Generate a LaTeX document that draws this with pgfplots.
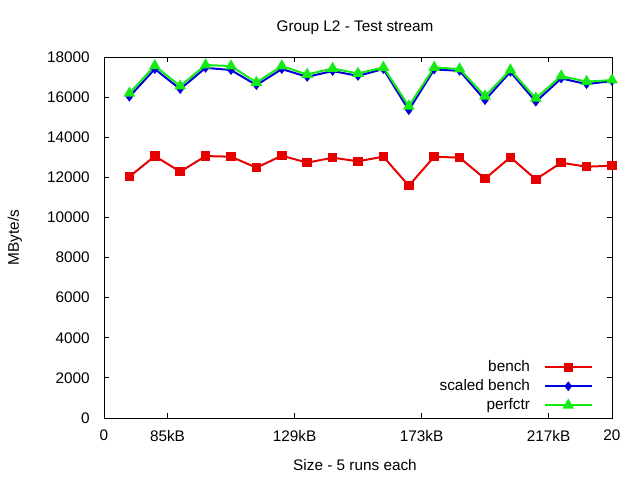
\documentclass[border=0pt]{standalone}
\usepackage{fontspec}
\setmainfont{Liberation Sans}
\usepackage{pgfplots}
\pgfplotsset{compat=1.18}

\definecolor{benchred}{RGB}{230,0,0}
\definecolor{scaledblue}{RGB}{0,0,220}
\definecolor{perfgreen}{RGB}{20,235,20}

% x = run index, y = MByte/s
\pgfplotstableread{
x bench scaled perfctr
1  12030 16020 16190
2  13060 17400 17560
3  12280 16400 16550
4  13060 17460 17600
5  13030 17350 17550
6  12480 16600 16730
7  13080 17400 17550
8  12730 17010 17130
9  12980 17300 17430
10 12800 17060 17180
11 13030 17400 17480
12 11580 15350 15550
13 13030 17380 17480
14 12980 17310 17400
15 11930 15850 16050
16 13000 17260 17350
17 11900 15770 15940
18 12730 16930 17050
19 12530 16650 16770
20 12580 16800 16850
}\datatable

\begin{document}
\begin{tikzpicture}[font=\fontsize{11.5pt}{13pt}\selectfont]
\begin{axis}[
  at={(0pt,0pt)}, anchor=south west,
  scale only axis,
  width=381pt, height=270.75pt,
  xmin=0, xmax=20, ymin=0, ymax=18000,
  xtick={0,2.5,7.5,12.5,17.5,20},
  xticklabels={0,85kB,129kB,173kB,217kB,20},
  ytick={0,2000,...,18000},
  scaled y ticks=false,
  /pgf/number format/.cd, 1000 sep={}, assume math mode=true,
  /pgfplots/.cd,
  axis line style={line width=0.6pt},
  every tick/.style={black, line width=0.6pt},
  major tick length=4pt,
  yticklabel style={inner sep=0pt, xshift=-10.5pt},
  xticklabel style={inner sep=0pt, yshift=-9pt},
  legend plot pos=right,
  legend cell align=right,
  legend style={draw=none, fill=none, inner sep=0pt, outer sep=0pt,
    at={(0.9617,0.015)}, anchor=south east,
    column sep=10.5pt, row sep=3.25pt,
    nodes={inner sep=0pt, text height=8.5pt, text depth=2.5pt}},
  legend image code/.code={%
    \draw[mark repeat=2, mark phase=2, #1]
      plot coordinates {(0pt,0pt) (17.45pt,0pt) (34.9pt,0pt)};},
  every axis plot/.append style={line width=1.5pt},
]
\addplot[benchred, mark=square*, mark size=2.8pt,
  mark options={solid, fill=benchred}] table[x=x, y=bench] {\datatable};
\addlegendentry{bench}
\addplot[scaledblue, mark=diamond*, mark size=2.5pt,
  mark options={solid, fill=scaledblue}] table[x=x, y=scaled] {\datatable};
\addlegendentry{scaled bench}
\addplot[perfgreen, mark=triangle*, mark size=3.6pt,
  mark options={solid, fill=perfgreen}] table[x=x, y=perfctr] {\datatable};
\addlegendentry{perfctr}
\end{axis}
\node at (188.25pt,292.5pt) {Group L2 - Test stream};
\node at (188.25pt,-35.25pt) {Size - 5 runs each};
\node[rotate=90] at (-66.75pt,135.4pt) {MByte/s};
\path[use as bounding box] (-78pt,-46.5pt) rectangle (402pt,313.5pt);
\end{tikzpicture}
\end{document}
